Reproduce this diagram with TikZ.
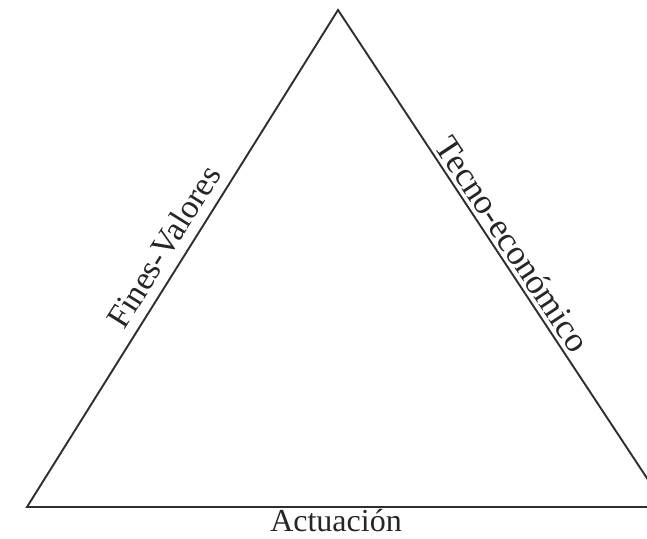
\documentclass[tikz,border=0pt]{standalone}
\usepackage{fontspec}
\setmainfont{Liberation Serif}
\begin{document}
\begin{tikzpicture}[x=1pt,y=-1pt,
  side/.style={line width=1.9pt,color=black!82,line join=miter},
  lbl/.style={text=black!85,inner sep=0pt}]
\useasboundingbox (0,0) rectangle (647,538);
\clip (0,0) rectangle (647,538);
\coordinate (top) at (338,10);
\coordinate (bl) at (27,507);
\coordinate (br) at (666,507);
\draw[side] (bl) -- (top) -- (br) -- cycle;
\path (bl) -- (top) node[lbl,font=\fontsize{33.5}{38}\selectfont,pos=0.5,sloped,anchor=base,yshift=11pt] (fv) {Fines-Valores};
\path (top) -- (br) node[lbl,font=\fontsize{35}{40}\selectfont,pos=0.49,sloped,anchor=base,yshift=5pt] (te) {Tecno-económico};
\node[lbl,font=\fontsize{32}{36}\selectfont,anchor=base] (ac) at (336,531.5) {Actuación};
\end{tikzpicture}
\end{document}
